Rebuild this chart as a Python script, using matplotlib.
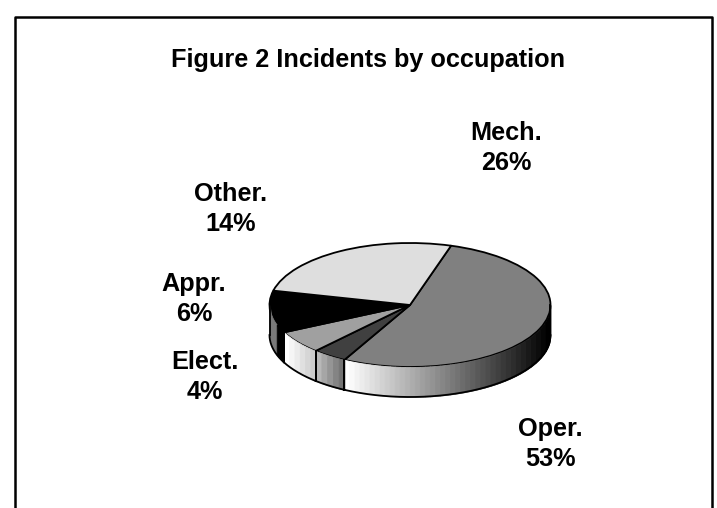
import numpy as np
import matplotlib
matplotlib.use("Agg")
import matplotlib.pyplot as plt

plt.rcParams['font.family'] = ['Liberation Sans', 'DejaVu Sans']

title = "Figure 2 Incidents by occupation"
# drawn slice sizes, clockwise from the top edge of Oper.
# the printed percentages do not add up to 100, the slices do
slices = ["Oper.", "Elect.", "Appr.", "Other.", "Mech."]
sizes = [53, 4, 6, 11, 26]
colors = ["#808080", "#404040", "#a0a0a0", "#000000", "#dedede"]
# side wall gradient for each slice: grey at left edge, grey at right edge
side_left = [1.0, 0.72, 1.0, 0.48, 0.5]
side_right = [0.0, 0.45, 0.8, 0.0, 0.5]

labels = ["Mech.\n26%", "Other.\n14%", "Appr.\n6%", "Elect.\n4%", "Oper.\n53%"]
label_x = [506, 231, 194, 205, 550]
label_y = [148, 209, 299, 377, 444]

W, H = 717, 508
cx, cy, rx, ry = 410, 305, 140.5, 62
depth = 30 / ry
start = 73

fig = plt.figure(figsize=(W / 100, H / 100), dpi=100)
ax = fig.add_axes([0, 0, 1, 1])

ax.pie(sizes, colors=colors, startangle=start, counterclock=False, radius=1,
       wedgeprops=dict(edgecolor="black", linewidth=1.3))
ax.set_aspect("auto")
ax.set_xlim(-cx / rx, (W - cx) / rx)
ax.set_ylim(-(H - cy) / ry, cy / ry)

# side wall, only the part of each slice on the front half
ends = start - np.cumsum(sizes) * 3.6
begins = np.r_[start, ends[:-1]]
for a0, a1, c0, c1 in zip(begins, ends, side_left, side_right):
    t = np.linspace(np.radians(a1), np.radians(a0), 400)
    t = t[np.sin(t) <= 0]
    if len(t) == 0:
        continue
    x = np.cos(t)
    y = np.sin(t)
    order = np.argsort(x)
    x, y = x[order], y[order]
    # bands about 5 px wide, like the stepped fill of the original
    n = max(int((x[-1] - x[0]) * rx / 5), 2)
    edges = np.linspace(x[0], x[-1], n + 1)
    for i in range(n):
        xs = np.linspace(edges[i], edges[i + 1], 6)
        ys = np.interp(xs, x, y)
        g = c0 + (c1 - c0) * i / max(n - 1, 1)
        ax.fill_between(xs, ys, ys - depth, facecolor=str(g), edgecolor=str(g),
                        lw=0.6, zorder=1)
    ax.plot(x, y - depth, color="black", lw=1.3, zorder=3)
    for xe, ye in [(x[0], y[0]), (x[-1], y[-1])]:
        ax.plot([xe, xe], [ye, ye - depth], color="black", lw=1.3, zorder=3)

# frame around the chart, no line at the bottom
frame_x = np.array([15, 15, 712, 712]) / W
frame_y = 1 - np.array([508, 17, 17, 508]) / H
fig.add_artist(plt.Line2D(frame_x, frame_y, color="black", lw=1.8))

fig.text(368 / W, 1 - 59.5 / H, title, ha="center", va="center",
         fontsize=18.2, fontweight="bold")
for s, x, y in zip(labels, label_x, label_y):
    fig.text(x / W, 1 - y / H, s, ha="center", va="center", fontsize=18.2,
             fontweight="bold", linespacing=1.27)

fig.savefig("out.png", dpi=100)
